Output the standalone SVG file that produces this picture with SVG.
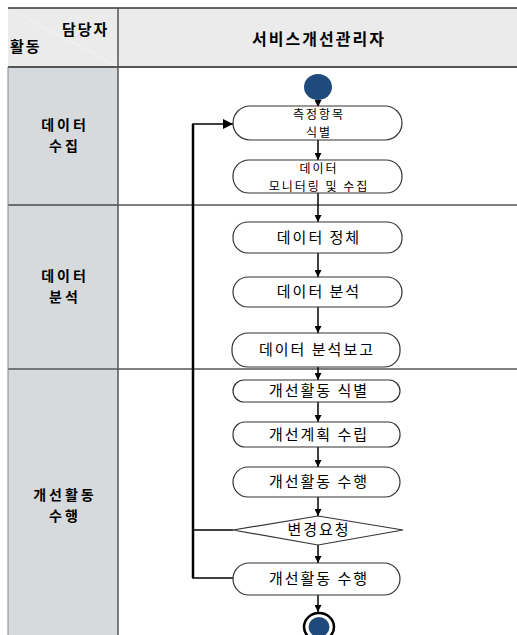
<svg xmlns="http://www.w3.org/2000/svg" width="517" height="635" viewBox="0 0 517 635">
<defs>
<style>
.lbl{font-family:"Noto Sans CJK KR","Noto Sans",sans-serif;font-size:15px;letter-spacing:2px;fill:#000;text-anchor:middle}
.lbl2{font-family:"Noto Sans CJK KR","Noto Sans",sans-serif;font-size:12px;letter-spacing:2px;fill:#000;text-anchor:middle}
.lane{font-family:"Noto Sans CJK KR","Noto Sans",sans-serif;font-size:14px;font-weight:bold;letter-spacing:3px;fill:#000;text-anchor:middle}
.hdr{font-family:"Noto Sans CJK KR","Noto Sans",sans-serif;font-size:15px;font-weight:bold;letter-spacing:2px;fill:#000}
.node{fill:#fff;stroke:#333;stroke-width:1.2}
.con{fill:none;stroke:#000;stroke-width:1.5}
</style>
<marker id="ah" viewBox="0 0 10 10" refX="10" refY="5" markerWidth="7" markerHeight="7" orient="auto" markerUnits="userSpaceOnUse">
<path d="M0,0 L10,5 L0,10 Z" fill="#000"/>
</marker>
<marker id="ah2" viewBox="0 0 10 10" refX="10" refY="5" markerWidth="10" markerHeight="10" orient="auto" markerUnits="userSpaceOnUse">
<path d="M0,0 L10,5 L0,10 Z" fill="#000"/>
</marker>
</defs>
<g id="background">
<rect x="0" y="0" width="517" height="635" fill="#fff"/>
<rect x="8" y="8" width="509" height="59" fill="#ebebeb"/>
<rect x="8" y="67" width="110" height="568" fill="#d6dadd"/>
<line x1="9" y1="9" x2="117" y2="66" stroke="#f4f4f4" stroke-width="1"/>
<line x1="8" y1="8" x2="517" y2="8" stroke="#333" stroke-width="1.5"/>
<line x1="8" y1="67" x2="517" y2="67" stroke="#555" stroke-width="2"/>
<line x1="8" y1="205" x2="517" y2="205" stroke="#000" stroke-width="1"/>
<line x1="8" y1="369" x2="517" y2="369" stroke="#555" stroke-width="1.5"/>
<line x1="118" y1="8" x2="118" y2="635" stroke="#555" stroke-width="1.5"/>
<line x1="8" y1="67" x2="8" y2="635" stroke="#888" stroke-width="1"/>
</g>
<g id="header">
<text class="hdr" x="319" y="45" text-anchor="middle" style="font-size:16px">서비스개선관리자</text>
<text class="hdr" x="62" y="35">담당자</text>
<text class="hdr" x="10" y="52">활동</text>
</g>
<g id="lanes">
<text class="lane"><tspan x="65" y="130">데이터</tspan><tspan x="65" y="151">수집</tspan></text>
<text class="lane"><tspan x="65" y="281">데이터</tspan><tspan x="65" y="302">분석</tspan></text>
<text class="lane"><tspan x="65" y="500">개선활동</tspan><tspan x="65" y="521">수행</tspan></text>
</g>
<g id="connectors">
<line class="con" x1="318" y1="100" x2="318" y2="107" marker-end="url(#ah)"/>
<line class="con" x1="318" y1="140" x2="318" y2="160" marker-end="url(#ah)"/>
<line class="con" x1="318" y1="193" x2="318" y2="222" marker-end="url(#ah)"/>
<line class="con" x1="318" y1="253" x2="318" y2="277" marker-end="url(#ah)"/>
<line class="con" x1="318" y1="307" x2="318" y2="333" marker-end="url(#ah)"/>
<line class="con" x1="318" y1="367" x2="318" y2="380" marker-end="url(#ah)"/>
<line class="con" x1="318" y1="402" x2="318" y2="422" marker-end="url(#ah)"/>
<line class="con" x1="318" y1="447" x2="318" y2="467" marker-end="url(#ah)"/>
<line class="con" x1="318" y1="497" x2="318" y2="516" marker-end="url(#ah)"/>
<line class="con" x1="318" y1="545" x2="318" y2="563" marker-end="url(#ah)"/>
<line class="con" x1="318" y1="595" x2="318" y2="612" marker-end="url(#ah)"/>
<polyline class="con" points="233,578 193,578 193,124 233,124" marker-end="url(#ah2)"/>
<line x1="193" y1="124" x2="193" y2="578" stroke="#000" stroke-width="2.5"/>
<line class="con" x1="233" y1="530" x2="193" y2="530"/>
</g>
<g id="start"><ellipse cx="318" cy="87" rx="14" ry="13" fill="#1f4a7c"/></g>
<g id="n1"><rect class="node" x="233" y="106" width="169" height="34" rx="17"/><text class="lbl2"><tspan x="319" y="118.5">측정항목</tspan><tspan x="319" y="136.5">식별</tspan></text></g>
<g id="n2"><rect class="node" x="233" y="160" width="169" height="33" rx="16"/><text class="lbl2"><tspan x="319" y="173">데이터</tspan><tspan x="319" y="191">모니터링 및 수집</tspan></text></g>
<g id="n3"><rect class="node" x="233" y="222" width="169" height="31" rx="15"/><text class="lbl" x="319" y="243">데이터 정체</text></g>
<g id="n4"><rect class="node" x="233" y="277" width="169" height="30" rx="15"/><text class="lbl" x="319" y="297">데이터 분석</text></g>
<g id="n5"><rect class="node" x="232" y="333" width="168" height="34" rx="16"/><text class="lbl" x="317" y="355">데이터 분석보고</text></g>
<g id="n6"><rect class="node" x="233" y="380" width="167" height="22" rx="11"/><text class="lbl" x="319" y="396">개선활동 식별</text></g>
<g id="n7"><rect class="node" x="233" y="422" width="167" height="25" rx="12"/><text class="lbl" x="319" y="440">개선계획 수립</text></g>
<g id="n8"><rect class="node" x="233" y="467" width="167" height="30" rx="15"/><text class="lbl" x="319" y="487">개선활동 수행</text></g>
<g id="decision"><polygon class="node" points="318,516 403,530 318,545 233,530"/><text class="lbl" x="319" y="535">변경요청</text></g>
<g id="n9"><rect class="node" x="233" y="563" width="167" height="32" rx="16"/><text class="lbl" x="319" y="584">개선활동 수행</text></g>
<g id="end"><ellipse cx="319" cy="627" rx="15" ry="14" fill="#fff" stroke="#000" stroke-width="2.5"/><ellipse cx="319" cy="627" rx="10.5" ry="10" fill="#1f4a7c"/></g>
</svg>
